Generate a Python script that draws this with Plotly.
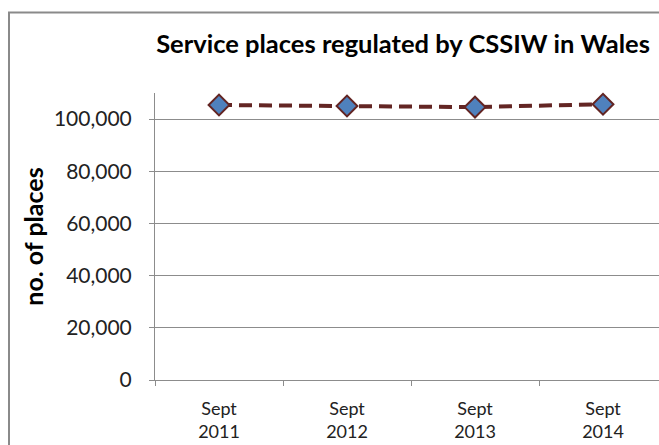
import plotly.graph_objects as go

categories = ["Sept<br>2011", "Sept<br>2012", "Sept<br>2013", "Sept<br>2014"]
places = [105400, 105000, 104600, 105700]
y_ticks = [0, 20000, 40000, 60000, 80000, 100000]

L, R, T, B = 155, 0, 93, 65
W, H = 659, 445
pw, ph = W - L - R, H - T - B

fig = go.Figure()
fig.add_trace(go.Scatter(
    x=categories, y=places, mode="lines+markers",
    line=dict(color="#632523", width=4, dash="13px,7px"),
    marker=dict(symbol="diamond", size=16, color="#4F81BD",
                line=dict(color="#632523", width=2)),
    cliponaxis=False,
))

fig.update_layout(
    width=W, height=H,
    margin=dict(l=L, r=R, t=T, b=B),
    paper_bgcolor="white", plot_bgcolor="white",
    showlegend=False,
    font=dict(family="Lato, 'Open Sans', sans-serif", color="#222222"),
    title=dict(text="<b>Service places regulated by CSSIW in Wales</b>",
               x=403 / W, xanchor="center", y=1 - 44 / H, yanchor="middle",
               font=dict(size=25.5, color="black")),
    xaxis=dict(type="category", range=[-0.5, -0.5 + pw / 128],
               showline=True, linecolor="#8c8c8c", linewidth=1,
               ticks="outside", tickson="boundaries", ticklen=5, tickcolor="#8c8c8c",
               ticklabelstandoff=12,
               showgrid=False, tickfont=dict(size=18, color="#222222"),
               fixedrange=True),
    yaxis=dict(range=[0, 110000], tickvals=y_ticks, tickformat=",d",
               showline=True, linecolor="#8c8c8c", linewidth=1,
               ticks="outside", ticklen=5, tickcolor="#8c8c8c",
               ticklabelstandoff=13,
               showgrid=True, gridcolor="#8c8c8c", gridwidth=1,
               zeroline=False,
               tickfont=dict(size=21, color="#222222"),
               title=dict(text="<b>no. of places</b>", font=dict(size=25, color="black"),
                          standoff=3)),
)

# outer chart border (cropped on right and bottom)
fig.add_shape(type="rect", xref="paper", yref="paper",
              x0=(9 - L) / pw, x1=1.2, y0=-0.5, y1=(H - B - 12.5) / ph,
              line=dict(color="#8a8a8a", width=2), fillcolor="rgba(0,0,0,0)", layer="below")

fig.write_html("out.html", config={"displayModeBar": False},
               post_script="document.body.style.margin='0px';")
